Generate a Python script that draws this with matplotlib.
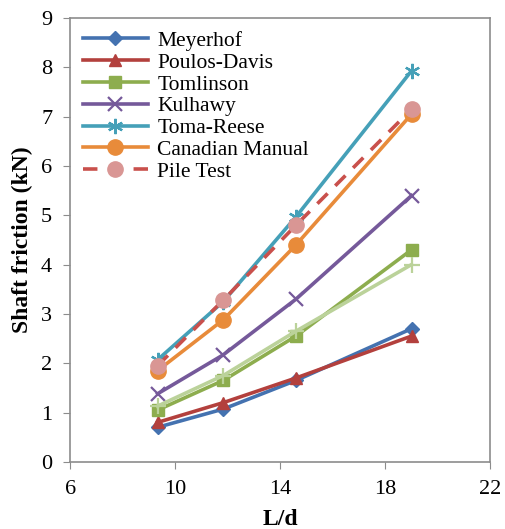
import matplotlib.pyplot as plt

plt.rcParams['font.family'] = ['Liberation Serif', 'DejaVu Serif']

ld = [9.33, 11.83, 14.6, 19.0]

meyerhof = [0.70, 1.07, 1.65, 2.70]
poulos_davis = [0.80, 1.20, 1.70, 2.55]
tomlinson = [1.05, 1.65, 2.55, 4.30]
kulhawy = [1.38, 2.17, 3.30, 5.40]
toma_reese = [2.07, 3.25, 4.97, 7.93]
canadian = [1.85, 2.88, 4.40, 7.05]
pile_test = [1.95, 3.28, 4.80, 7.15]
extra = [1.13, 1.75, 2.65, 4.00]

fig = plt.figure(figsize=(5.05, 5.29), dpi=100)
ax = fig.add_axes([0.139, 0.127, 0.832, 0.839])

lw = 2.6
ax.plot(ld, meyerhof, color='#4472B0', marker='D', ms=7, lw=lw, label='Meyerhof')
ax.plot(ld, poulos_davis, color='#B3403D', marker='^', ms=9, lw=lw, label='Poulos-Davis')
ax.plot(ld, tomlinson, color='#8DAD4E', marker='s', ms=9, lw=lw, label='Tomlinson')
ax.plot(ld, kulhawy, color='#75599A', marker='x', ms=10, mew=1.6, lw=lw, label='Kulhawy')
ax.plot(ld, toma_reese, color='#45A0B8', marker=(6, 2, 0), ms=11, mew=1.6, lw=lw, label='Toma-Reese')
ax.plot(ld, canadian, color='#E88B3A', marker='o', ms=11, lw=lw, label='Canadian Manual')
ax.plot(ld, pile_test, color='#C9504C', ls=(0, (4, 3)), lw=lw, marker='o', ms=11,
        mfc='#D99694', mec='#D99694', label='Pile Test')
ax.plot(ld, extra, color='#BBD29A', marker='+', ms=12, mew=1.6, lw=lw, label='_nolegend_')

ax.set_xlim(6, 22)
ax.set_ylim(0, 9)
ax.set_xticks([6, 10, 14, 18, 22])
ax.set_yticks(range(0, 10))

for s in ax.spines.values():
    s.set_color('#8C8C8C')
    s.set_linewidth(1.2)
ax.tick_params(direction='out', length=5, color='#8C8C8C', labelsize=16, pad=8)

ax.set_xlabel('L/d', fontsize=17, fontweight='bold', labelpad=7)
ax.set_ylabel('Shaft friction (kN)', fontsize=17, fontweight='bold', labelpad=6)

ax.legend(loc='upper left', frameon=False, fontsize=15.5, handlelength=3.0,
          labelspacing=0.08, borderaxespad=0.2, handletextpad=0.45,
          bbox_to_anchor=(0.0, 1.0))

fig.savefig('out.png', dpi=100)
